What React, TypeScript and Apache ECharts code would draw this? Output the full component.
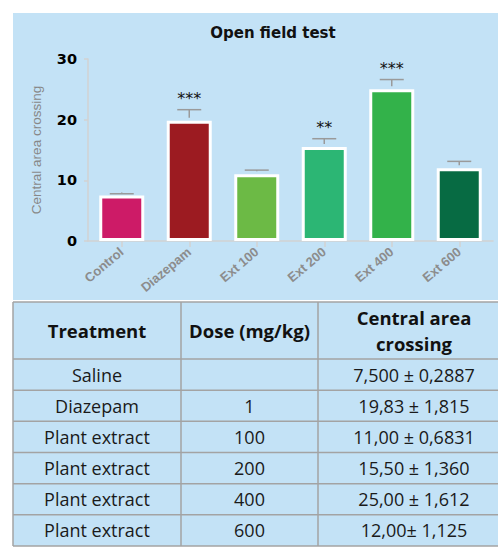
import React, { useEffect, useRef } from "react";
import * as echarts from "echarts";

const categories = ["Control", "Diazepam", "Ext 100", "Ext 200", "Ext 400", "Ext 600"];
const means = [7.5, 19.83, 11.0, 15.5, 25.0, 12.0];
const sems = [0.2887, 1.815, 0.6831, 1.36, 1.612, 1.125];
const stars = ["", "***", "", "**", "***", ""];
const barColors = ["#CD1B67", "#9C1B21", "#6CBA45", "#2CB674", "#33B24A", "#076B43"];
const yTicks = [0, 10, 20, 30];

const tableHeaders = ["Treatment", "Dose (mg/kg)", "Central area\ncrossing"];
const treatments = ["Saline", "Diazepam", "Plant extract", "Plant extract", "Plant extract", "Plant extract"];
const doses = ["", "1", "100", "200", "400", "600"];
const crossingTexts = [
  "7,500 ± 0,2887",
  "19,83 ± 1,815",
  "11,00 ± 0,6831",
  "15,50 ± 1,360",
  "25,00 ± 1,612",
  "12,00± 1,125",
];

const BG = "#C3E2F6";
const GRID_LINE = "#A3A3A3";

export default function App() {
  const ref = useRef<HTMLDivElement>(null);

  useEffect(() => {
    if (!ref.current) return;
    const chart = echarts.init(ref.current, undefined, { renderer: "svg" });

    // table geometry
    const tLeft = 13;
    const tTop = 302;
    const headBottom = 359;
    const rowH = 31.17;
    const colX = [13, 181, 318, 512];
    const colCenters = [97, 249.5, 414];
    const rowLines = [tTop, headBottom];
    for (let i = 1; i <= treatments.length; i++) rowLines.push(headBottom + i * rowH);
    const tBottom = rowLines[rowLines.length - 1];

    const tableEls: any[] = [];
    tableEls.push({
      type: "rect",
      z: 0,
      silent: true,
      shape: { x: tLeft, y: tTop, width: 520, height: tBottom - tTop },
      style: { fill: BG },
    });
    rowLines.forEach((y) => {
      tableEls.push({
        type: "line",
        z: 1,
        silent: true,
        shape: { x1: tLeft, y1: y, x2: 520, y2: y },
        style: { stroke: GRID_LINE, lineWidth: 1.5 },
      });
    });
    colX.slice(0, 3).forEach((x) => {
      tableEls.push({
        type: "line",
        z: 1,
        silent: true,
        shape: { x1: x, y1: tTop, x2: x, y2: tBottom },
        style: { stroke: GRID_LINE, lineWidth: 1.5 },
      });
    });
    tableHeaders.forEach((h, c) => {
      tableEls.push({
        type: "text",
        z: 2,
        silent: true,
        style: {
          text: h,
          x: colCenters[c],
          y: (tTop + headBottom) / 2,
          align: "center",
          verticalAlign: "middle",
          fontFamily: "Open Sans",
          fontWeight: "bold",
          fontSize: 18.5,
          lineHeight: 26,
          fill: "#111",
        },
      });
    });
    treatments.forEach((t, r) => {
      const cy = headBottom + (r + 0.5) * rowH;
      [t, doses[r], crossingTexts[r]].forEach((txt, c) => {
        tableEls.push({
          type: "text",
          z: 2,
          silent: true,
          style: {
            text: txt,
            x: colCenters[c],
            y: cy,
            align: "center",
            verticalAlign: "middle",
            fontFamily: "Open Sans",
            fontSize: 18,
            fill: "#1a1a1a",
          },
        });
      });
    });

    const option: any = {
      animation: false,
      backgroundColor: "#ffffff",
      title: {
        text: "Open field test",
        left: 273,
        top: 24,
        textAlign: "center",
        padding: 0,
        textStyle: {
          fontFamily: "DejaVu Sans",
          fontWeight: "bold",
          fontSize: 15,
          lineHeight: 18,
          color: "#111",
        },
      },
      graphic: [
        {
          type: "rect",
          z: 0,
          silent: true,
          shape: { x: 13, y: 13, width: 490, height: 287 },
          style: { fill: BG },
        },
        ...tableEls,
      ],
      grid: { left: 88, right: 5, top: 59, bottom: 547 - 241 },
      xAxis: {
        type: "category",
        data: categories,
        axisLine: { show: true, lineStyle: { color: "#D2D2D2", width: 1.5 } },
        axisTick: { show: true, alignWithLabel: true, length: 6, lineStyle: { color: "#D2D2D2", width: 1.5 } },
        axisLabel: {
          rotate: 40,
          margin: 9,
          color: "#8C8C8C",
          fontFamily: "Liberation Sans",
          fontWeight: "bold",
          fontSize: 13,
        },
      },
      yAxis: {
        type: "value",
        min: yTicks[0],
        max: yTicks[yTicks.length - 1],
        interval: 10,
        name: "Central area crossing",
        nameLocation: "middle",
        nameRotate: 90,
        nameGap: 45,
        nameTextStyle: {
          color: "#888888",
          fontFamily: "Liberation Sans",
          fontSize: 13.5,
        },
        splitLine: { show: false },
        axisLine: { show: true, lineStyle: { color: "#D2D2D2", width: 1.5 } },
        axisTick: { show: true, length: 4, lineStyle: { color: "#D2D2D2", width: 1.5 } },
        axisLabel: {
          margin: 11,
          color: "#000",
          fontFamily: "DejaVu Sans",
          fontWeight: "bold",
          fontSize: 14.5,
        },
      },
      series: [
        {
          type: "bar",
          barWidth: 45,
          data: means.map((v, i) => ({
            value: v,
            itemStyle: { color: barColors[i], borderColor: "#ffffff", borderWidth: 3 },
          })),
          z: 2,
        },
        {
          type: "custom",
          z: 3,
          data: means.map((v, i) => [i, v, sems[i]]),
          encode: { x: 0, y: 1 },
          renderItem: (params: any, api: any) => {
            const idx = api.value(0);
            const m = api.value(1);
            const e = api.value(2);
            const base = api.coord([idx, m]);
            const top = api.coord([idx, m + e]);
            const hw = 12;
            const children: any[] = [
              {
                type: "line",
                shape: { x1: top[0], y1: base[1] - 3, x2: top[0], y2: top[1] },
                style: { stroke: "#9A9A9A", lineWidth: 1.5 },
              },
              {
                type: "line",
                shape: { x1: top[0] - hw, y1: top[1], x2: top[0] + hw, y2: top[1] },
                style: { stroke: "#9A9A9A", lineWidth: 1.5 },
              },
            ];
            const s = stars[idx];
            if (s) {
              children.push({
                type: "text",
                style: {
                  text: s,
                  x: top[0],
                  y: top[1] - 11,
                  align: "center",
                  verticalAlign: "middle",
                  fontFamily: "DejaVu Sans",
                  fontSize: 16,
                  fill: "#111",
                },
              });
            }
            return { type: "group", children };
          },
        },
      ],
    };

    chart.setOption(option);
    return () => chart.dispose();
  }, []);

  return (
    <div
      ref={ref}
      style={{ position: "absolute", left: 0, top: 0, width: 498, height: 547 }}
    />
  );
}
